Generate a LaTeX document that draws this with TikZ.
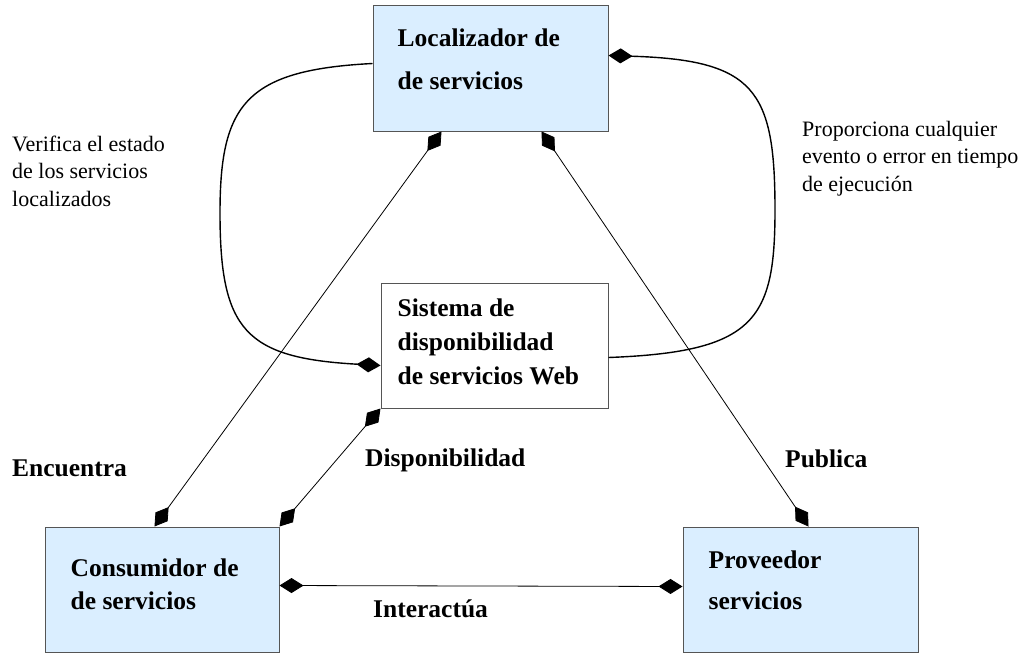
\documentclass[tikz,border=0pt]{standalone}
\usepackage{fontspec}
\setmainfont{Liberation Serif}
\usepackage{xcolor}
\usetikzlibrary{arrows.meta,calc}

\definecolor{svcblue}{RGB}{218,238,255}
\definecolor{svcedge}{RGB}{85,85,85}

\tikzset{
  svcbox/.style={draw=svcedge, fill=svcblue, line width=1pt, inner sep=0pt},
  plainbox/.style={draw=svcedge, fill=white, line width=1pt, inner sep=0pt},
  boxtext/.style={anchor=base west, inner sep=0pt, align=left},
  note/.style={anchor=base west, inner sep=0pt, align=left, font=\fontsize{22}{27.5}\selectfont},
  tag/.style={anchor=base west, inner sep=0pt, font=\fontsize{25.5}{30}\selectfont\bfseries},
  link/.style={line width=0.8pt},
  loop/.style={line width=1.4pt},
  dtip/.tip={Diamond[length=24pt,width=15pt]}
}

\begin{document}
\begin{tikzpicture}[x=1pt, y=-1pt]
\useasboundingbox (0,0) rectangle (1025,653);

% boxes
\node[svcbox, minimum width=235pt, minimum height=126pt] (loc) at (490.5,68) {};
\node[plainbox, minimum width=227pt, minimum height=125pt] (sis) at (494.5,345.5) {};
\node[svcbox, minimum width=234pt, minimum height=125pt] (con) at (162,589.5) {};
\node[svcbox, minimum width=235pt, minimum height=125pt] (pro) at (800.5,589.5) {};

% box texts (anchored on the baseline of the last line)
\node[boxtext, font=\fontsize{25.5}{43}\selectfont\bfseries] (loctxt) at ($(loc.north west)+(25,85)$) {Localizador de\\de servicios};
\node[boxtext, font=\fontsize{25.5}{34}\selectfont\bfseries] (sistxt) at ($(sis.north west)+(17,102)$) {Sistema de\\disponibilidad\\de servicios Web};
\node[boxtext, font=\fontsize{25.5}{33}\selectfont\bfseries] (contxt) at ($(con.north west)+(26,83)$) {Consumidor de\\de servicios};
\node[boxtext, font=\fontsize{25.5}{41}\selectfont\bfseries] (protxt) at ($(pro.north west)+(26,83)$) {Proveedor\\servicios};

% straight links
\draw[link, dtip-dtip] ($(loc.south west)+(69,0)$) -- ($(con.north west)+(110,0)$);
\draw[link, dtip-dtip] ($(loc.south west)+(169,0)$) -- ($(pro.north west)+(126,0)$);
\draw[link, dtip-dtip] (sis.south west) -- (con.north east);
\draw[link, dtip-dtip] ($(con.east)+(0,-4)$) -- ($(pro.west)+(0,-3)$);

% loops
\draw[loop, -dtip] ($(loc.north west)+(0,59)$) .. controls (245,70) and (220,105) .. (220,213)
  .. controls (220,330) and (245,358) .. ($(sis.south west)+(0,-43)$);
\draw[loop, -dtip] ($(sis.north east)+(0,75)$) .. controls (755,352) and (775,320) .. (775,210)
  .. controls (775,90) and (755,60) .. ($(loc.north east)+(0,51)$);

% labels
\node[note] (verifica) at (12,206) {Verifica el estado\\de los servicios\\localizados};
\node[note] (proporciona) at (802,191) {Proporciona cualquier\\evento o error en tiempo\\de ejecución};
\node[tag] (encuentra) at (12,476) {Encuentra};
\node[tag] (disponib) at (365,466) {Disponibilidad};
\node[tag] (publica) at (785,467) {Publica};
\node[tag] (interact) at (373,617) {Interactúa};
\end{tikzpicture}
\end{document}
